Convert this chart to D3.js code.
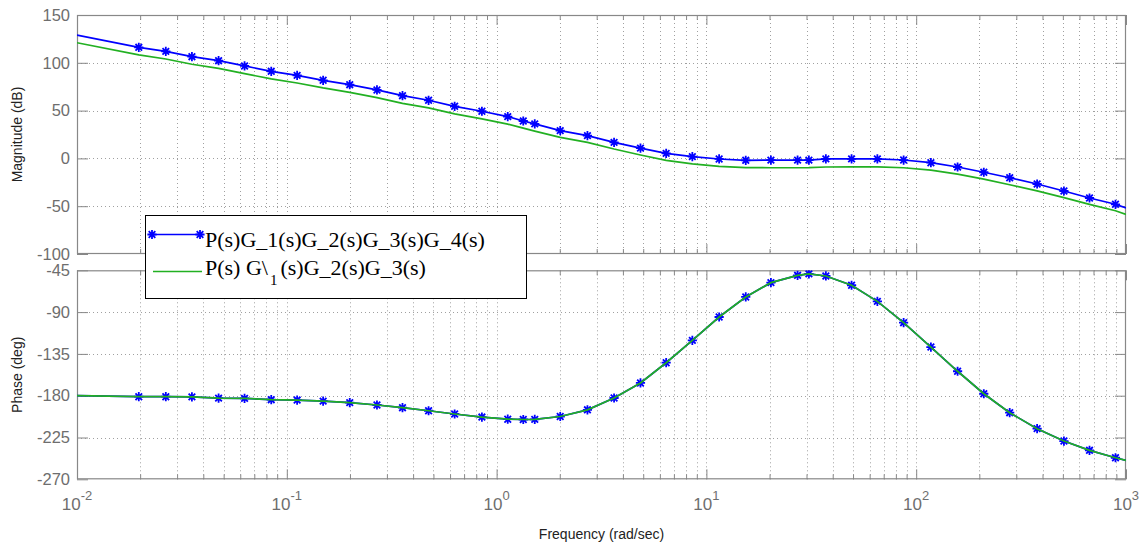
<!DOCTYPE html>
<html><head><meta charset="utf-8">
<script src="https://cdn.jsdelivr.net/npm/d3@7"></script>
<style>
html,body{margin:0;padding:0;background:#fff;}
svg{display:block;}
</style></head><body>
<svg id="chart" width="1140" height="548"></svg>
<script>
// ---------- data ----------
const freq = [0.01, 0.0197, 0.0265, 0.0353, 0.0473, 0.0629, 0.0843, 0.112, 0.149, 0.1995, 0.269, 0.356, 0.474, 0.631, 0.851, 1.13, 1.34, 1.52, 2.01, 2.71, 3.63, 4.85, 6.43, 8.57, 11.5, 15.4, 20.3, 27.2, 30.8, 37.1, 49.2, 65.3, 87.1, 117.5, 157.5, 210, 279, 377, 506, 670, 891, 1000];
const magFull = [129, 116.2, 112.0, 106.4, 102.2, 96.7, 91.1, 86.9, 81.7, 77.1, 71.6, 65.6, 60.8, 54.5, 49.3, 43.7, 39.1, 36.1, 29.0, 23.8, 16.8, 10.8, 5.3, 1.9, -0.6, -2.0, -1.8, -1.8, -1.8, -0.5, -0.5, -0.5, -1.7, -4.5, -9.0, -14.5, -20.2, -26.8, -34.1, -41.4, -48.0, -51.8];
const magReduced = [121, 108.3, 104.0, 98.5, 94.2, 88.7, 83.1, 78.9, 73.7, 69.1, 63.6, 57.6, 52.8, 46.5, 41.3, 35.8, 31.6, 28.6, 22.0, 16.8, 9.8, 3.6, -2.0, -5.8, -8.4, -9.6, -9.8, -9.8, -9.7, -9.0, -8.8, -8.9, -9.8, -12.2, -16.4, -21.6, -27.6, -34.0, -41.0, -48.1, -54.8, -58.5];
const phaseFull = [-180, -181.1, -181.1, -181.3, -182.6, -182.9, -184.3, -184.7, -185.8, -187.5, -190.0, -192.9, -196.2, -199.7, -203.0, -205.3, -205.6, -205.5, -202.4, -195.2, -182.5, -166.3, -144.5, -120.4, -95.3, -73.7, -58.3, -50.4, -48.8, -51.1, -61.1, -78.4, -101.4, -127.6, -153.7, -177.9, -198.3, -215.5, -228.8, -238.8, -246.8, -249.6];
const phaseReduced = phaseFull; // both systems share the same phase curve in the reference
const magTicks = [150, 100, 50, 0, -50, -100];
const phaseTicks = [-45, -90, -135, -180, -225, -270];
const decadeExponents = [-2, -1, 0, 1, 2, 3];
const legendLabel1 = "P(s)G_1(s)G_2(s)G_3(s)G_4(s)";
const legendLabel2Parts = ["P(s) G\\", "1", "(s)G_2(s)G_3(s)"];
const yLabelMag = "Magnitude (dB)";
const yLabelPhase = "Phase (deg)";
const xLabel = "Frequency (rad/sec)";

// ---------- layout ----------
const L = 77, R = 1126;
const magTop = 15, magBot = 254, phTop = 270.3, phBot = 479.3;
const BLUE = "#0000ff", GREEN = "#22b022";
const AXIS = "#888888", TICKTXT = "#6e6e6e", GRID = "#a0a0a0";
const SANS = "'Liberation Sans', Arial, Helvetica, sans-serif";
const SERIF = "'Liberation Serif', 'Times New Roman', Times, serif";

const svg = d3.select("#chart");
const x = d3.scaleLog().domain([1e-2, 1e3]).range([L, R]);
const yMag = d3.scaleLinear().domain([-100, 150]).range([magBot, magTop]);
const yPh = d3.scaleLinear().domain([-270, -45]).range([phBot, phTop]);

const majors = decadeExponents.map(e => Math.pow(10, e));
const minors = [];
decadeExponents.slice(0, -1).forEach(e => { for (let m = 2; m <= 9; m++) minors.push(m * Math.pow(10, e)); });

const defs = svg.append("defs");

function panel(id, y, yTicks, top, bot, showXLabels) {
  const g = svg.append("g");
  defs.append("clipPath").attr("id", id).append("rect")
    .attr("x", L).attr("y", top).attr("width", R - L).attr("height", bot - top);
  // grid
  const grid = g.append("g").attr("stroke", GRID).attr("stroke-width", 1).attr("stroke-dasharray", "1,3");
  grid.selectAll("line.v").data(majors.slice(1, -1).concat(minors)).join("line")
    .attr("class", "v")
    .attr("x1", d => Math.round(x(d)) + 0.5).attr("x2", d => Math.round(x(d)) + 0.5)
    .attr("y1", top).attr("y2", bot);
  grid.selectAll("line.h").data(yTicks.slice(1, -1)).join("line")
    .attr("class", "h")
    .attr("x1", L).attr("x2", R)
    .attr("y1", d => Math.round(y(d)) + 0.5).attr("y2", d => Math.round(y(d)) + 0.5);

  const axes = g.append("g");
  const styleAxis = sel => {
    sel.select(".domain").remove();
    sel.selectAll(".tick line").attr("stroke", AXIS);
    sel.selectAll(".tick text").attr("fill", TICKTXT).style("font-family", SANS).style("font-size", "16.5px");
  };
  axes.append("g").attr("transform", `translate(${L},0)`)
    .call(d3.axisLeft(y).tickValues(yTicks).tickSize(-11).tickPadding(7).tickFormat(d => String(d)))
    .call(styleAxis);
  axes.append("g").attr("transform", `translate(${R},0)`)
    .call(d3.axisRight(y).tickValues(yTicks).tickSize(-11).tickFormat(""))
    .call(styleAxis);
  [[bot, d3.axisBottom], [top, d3.axisTop]].forEach(([yy, ax]) => {
    axes.append("g").attr("transform", `translate(0,${yy})`)
      .call(ax(x).tickValues(majors).tickSize(-10).tickFormat(""))
      .call(styleAxis);
    axes.append("g").attr("transform", `translate(0,${yy})`)
      .call(ax(x).tickValues(minors).tickSize(-5).tickFormat(""))
      .call(styleAxis);
  });
  g.append("rect").attr("x", L + 0.5).attr("y", top + 0.5).attr("width", R - L - 1).attr("height", bot - top - 1)
    .attr("fill", "none").attr("stroke", AXIS).attr("stroke-width", 1.2);

  if (showXLabels) {
    const lab = g.append("g").selectAll("text").data(decadeExponents).join("text")
      .attr("x", e => x(Math.pow(10, e))).attr("y", 509.5)
      .attr("text-anchor", "middle").attr("fill", TICKTXT)
      .style("font-family", SANS).style("font-size", "17px");
    lab.append("tspan").text("10");
    lab.append("tspan").attr("dy", -10).style("font-size", "13px").text(e => String(e));
  }
  return g.append("g").attr("clip-path", `url(#${id})`);
}

const starPath = r => {
  const q = r * 0.72;
  return `M0,${-r}V${r}M${-r},0H${r}M${-q},${-q}L${q},${q}M${-q},${q}L${q},${-q}`;
};

function drawSeries(g, y, vals, color, withMarkers) {
  const pts = freq.map((f, i) => ({ f, v: vals[i] }));
  g.append("path").datum(pts)
    .attr("fill", "none").attr("stroke", color).attr("stroke-width", 1.7)
    .attr("d", d3.line().x(d => x(d.f)).y(d => y(d.v)));
  if (withMarkers) {
    g.append("g").selectAll("path").data(pts.slice(1, -1)).join("path")
      .attr("transform", d => `translate(${x(d.f)},${y(d.v)})`)
      .attr("d", starPath(4.6)).attr("fill", "none")
      .attr("stroke", color).attr("stroke-width", 1.8);
  }
}

const gMag = panel("clipMag", yMag, magTicks, magTop, magBot, false);
drawSeries(gMag, yMag, magFull, BLUE, true);
drawSeries(gMag, yMag, magReduced, GREEN, false);

const gPh = panel("clipPh", yPh, phaseTicks, phTop, phBot, true);
drawSeries(gPh, yPh, phaseFull, BLUE, true);
drawSeries(gPh, yPh, phaseReduced, GREEN, false);

// axis labels
svg.append("text").attr("transform", `translate(22,${(magTop + magBot) / 2}) rotate(-90)`)
  .attr("text-anchor", "middle").attr("fill", "#222").style("font-family", SANS).style("font-size", "14px")
  .text(yLabelMag);
svg.append("text").attr("transform", `translate(22,${(phTop + phBot) / 2}) rotate(-90)`)
  .attr("text-anchor", "middle").attr("fill", "#222").style("font-family", SANS).style("font-size", "14px")
  .text(yLabelPhase);
svg.append("text").attr("x", (L + R) / 2).attr("y", 538.5)
  .attr("text-anchor", "middle").attr("fill", "#222").style("font-family", SANS).style("font-size", "14px")
  .text(xLabel);

// legend
const lg = svg.append("g");
lg.append("rect").attr("x", 145.5).attr("y", 215.5).attr("width", 381).attr("height", 83)
  .attr("fill", "#fff").attr("stroke", "#000").attr("stroke-width", 1);
lg.append("line").attr("x1", 152).attr("x2", 200).attr("y1", 234.5).attr("y2", 234.5)
  .attr("stroke", BLUE).attr("stroke-width", 1.7);
lg.selectAll("path.m").data([152, 200]).join("path").attr("class", "m")
  .attr("transform", d => `translate(${d},234.5)`).attr("d", starPath(4.6))
  .attr("fill", "none").attr("stroke", BLUE).attr("stroke-width", 1.8);
lg.append("text").attr("x", 205).attr("y", 246.5).attr("fill", "#000")
  .style("font-family", SERIF).style("font-size", "22px").text(legendLabel1);
lg.append("line").attr("x1", 153).attr("x2", 202).attr("y1", 271.5).attr("y2", 271.5)
  .attr("stroke", GREEN).attr("stroke-width", 1.7);
const t2 = lg.append("text").attr("x", 205).attr("y", 274.5).attr("fill", "#000")
  .style("font-family", SERIF).style("font-size", "22px");
t2.append("tspan").text(legendLabel2Parts[0]);
t2.append("tspan").attr("dy", 10).attr("dx", 2).style("font-size", "15px").text(legendLabel2Parts[1]);
t2.append("tspan").attr("dy", -10).attr("dx", 3).text(legendLabel2Parts[2]);
</script>
</body></html>
